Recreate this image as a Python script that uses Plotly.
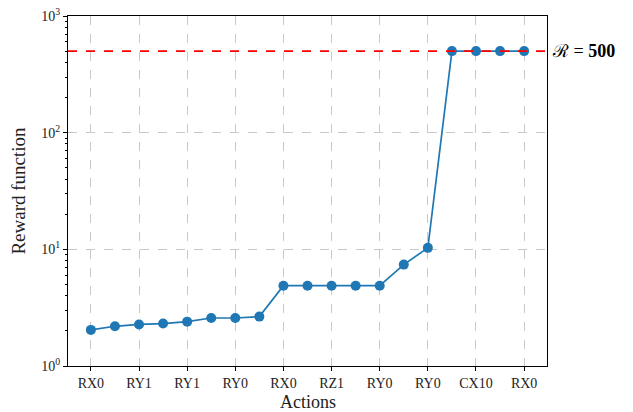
import math
import plotly.graph_objects as go

steps = list(range(19))
rewards = [2.04, 2.19, 2.27, 2.31, 2.40, 2.58, 2.58, 2.65,
           4.88, 4.88, 4.88, 4.88, 4.88, 7.4, 10.3, 500, 500, 500, 500]
tick_positions = [0, 2, 4, 6, 8, 10, 12, 14, 16, 18]
tick_labels = ["RX0", "RY1", "RY1", "RY0", "RX0", "RZ1", "RY0", "RY0", "CX10", "RX0"]
y_major = [1, 10, 100, 1000]
y_major_text = ["10<sup>0</sup>", "10<sup>1</sup>", "10<sup>2</sup>", "10<sup>3</sup>"]
y_minor = [m * 10 ** e for e in range(3) for m in range(2, 10)]
threshold = 500

FONT = "Liberation Serif"

fig = go.Figure()
fig.add_trace(go.Scatter(
    x=steps, y=rewards, mode="lines+markers",
    line=dict(color="#1f77b4", width=1.7),
    marker=dict(color="#1f77b4", size=10),
    showlegend=False, cliponaxis=False,
))
fig.add_shape(type="line", xref="paper", x0=0, x1=1, yref="y", y0=threshold, y1=threshold,
              line=dict(color="red", width=1.7, dash="dash"), layer="above")
fig.add_annotation(xref="paper", x=1.0, yref="y", y=math.log10(threshold), xanchor="left", yanchor="middle",
                   text="ℛ = <b>500</b>", showarrow=False, xshift=3,
                   font=dict(family=FONT, size=18, color="black"))
fig.add_annotation(xref="paper", x=0.5, yref="paper", y=0, xanchor="center", yanchor="top",
                   text="Actions", showarrow=False, yshift=-25, borderpad=0,
                   font=dict(family=FONT, size=18, color="#222"))

fig.update_layout(
    width=633, height=412,
    margin=dict(l=68, r=86, t=16, b=46),
    paper_bgcolor="white", plot_bgcolor="white",
    font=dict(family=FONT, size=14, color="#222"),
)
fig.update_xaxes(
    range=[-0.95, 18.95], automargin=False,
    tickmode="array", tickvals=tick_positions, ticktext=tick_labels,
    ticks="outside", ticklen=4, tickcolor="black",
    tickfont=dict(size=14),
    showline=True, linecolor="black", linewidth=1.2, mirror=True,
    showgrid=True, gridcolor="#c8c8c8", griddash="dash", gridwidth=1,
    zeroline=False,
)
fig.update_yaxes(
    type="log", range=[0, 3], automargin=False,
    tickmode="array", tickvals=y_major, ticktext=y_major_text,
    ticks="outside", ticklen=4, tickcolor="black",
    tickfont=dict(size=14),
    minor=dict(tickmode="array", tickvals=y_minor, ticks="outside", ticklen=2, tickcolor="black", showgrid=False),
    showline=True, linecolor="black", linewidth=1.2, mirror=True,
    showgrid=True, gridcolor="#c8c8c8", griddash="dash", gridwidth=1,
    zeroline=False,
    title=dict(text="Reward function", font=dict(size=19, family=FONT, color="#222"), standoff=10),
)
fig.write_html("out.html")
